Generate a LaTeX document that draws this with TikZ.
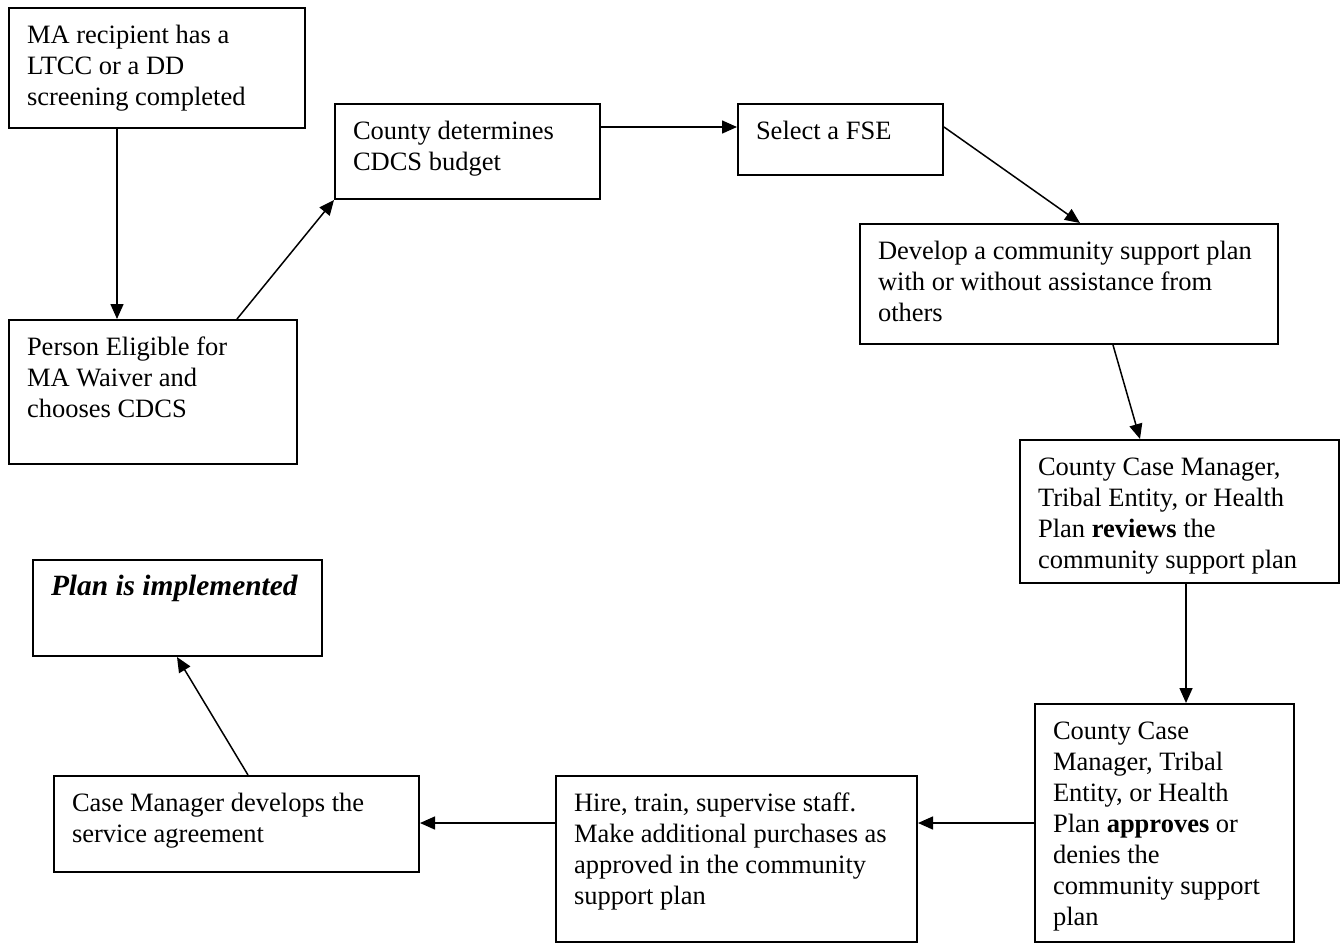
\documentclass[tikz,border=0pt]{standalone}
\usepackage{fontspec}
\setmainfont{Liberation Serif}
\usetikzlibrary{arrows.meta}

\begin{document}
\begin{tikzpicture}[x=0.5pt,y=-0.5pt,box/.style={draw,line width=1pt,anchor=north west,align=left,inner xsep=9pt,inner ysep=7.5pt,text height=10pt,font=\fontsize{13.25}{15.5}\selectfont,execute at begin node={\spaceskip=0pt\xspaceskip=0pt}},arr/.style={-{Triangle[length=7.5pt,width=6.5pt]},line width=0.75pt}]
\useasboundingbox (0,0) rectangle (1342,943);
\node[box,text width=130pt,text depth=35pt] (scr) at (8,7) {MA recipient has a\\LTCC or a DD\\screening completed};
\node[box,text width=126pt,text depth=47pt] (elig) at (8,319) {Person Eligible for\\MA Waiver and\\chooses CDCS};
\node[box,text width=114.5pt,text depth=22.5pt] (budget) at (334,103) {County determines\\CDCS budget};
\node[box,text width=84.5pt,text depth=10.5pt] (fse) at (737,103) {Select a FSE};
\node[box,text width=191pt,text depth=35pt] (plan) at (859,223) {Develop a community support plan\\with or without assistance from\\others};
\node[box,text width=141.5pt,text depth=46.5pt] (review) at (1019,439) {County Case Manager,\\Tribal Entity, or Health\\Plan \textbf{reviews} the\\community support plan};
\node[box,text width=111.5pt,text depth=94pt] (approve) at (1034,703) {County Case\\Manager, Tribal\\Entity, or Health\\Plan \textbf{approves} or\\denies the\\community support\\plan};
\node[box,text width=162.5pt,text depth=58pt] (hire) at (555,775) {Hire, train, supervise staff.\\Make additional purchases as\\approved in the community\\support plan};
\node[box,text width=164.5pt,text depth=23pt] (agree) at (53,775) {Case Manager develops the\\service agreement};
\node[box,text width=126.5pt,text depth=23pt,font=\fontsize{14.7}{17}\selectfont] (impl) at (32,559) {\textbf{\textit{Plan is implemented}}};
\draw[arr]([xshift=54.5pt]scr.south west)--([xshift=54.5pt]elig.north west);\draw[arr]([xshift=114.5pt]elig.north west)--(budget.south west);\draw[arr]([yshift=-12pt]budget.north east)--([yshift=-12pt]fse.north west);
\draw[arr]([yshift=-12pt]fse.north east)--([xshift=110.5pt]plan.north west);\draw[arr]([xshift=127pt]plan.south west)--([xshift=60.5pt]review.north west);\draw[arr]([xshift=83.5pt]review.south west)--([xshift=76pt]approve.north west);
\draw[arr]([yshift=-60pt]approve.north west)--([yshift=-24pt]hire.north east);\draw[arr]([yshift=-24pt]hire.north west)--([yshift=-24pt]agree.north east);\draw[arr]([xshift=97.5pt]agree.north west)--([xshift=72.5pt]impl.south west);
\end{tikzpicture}
\end{document}
